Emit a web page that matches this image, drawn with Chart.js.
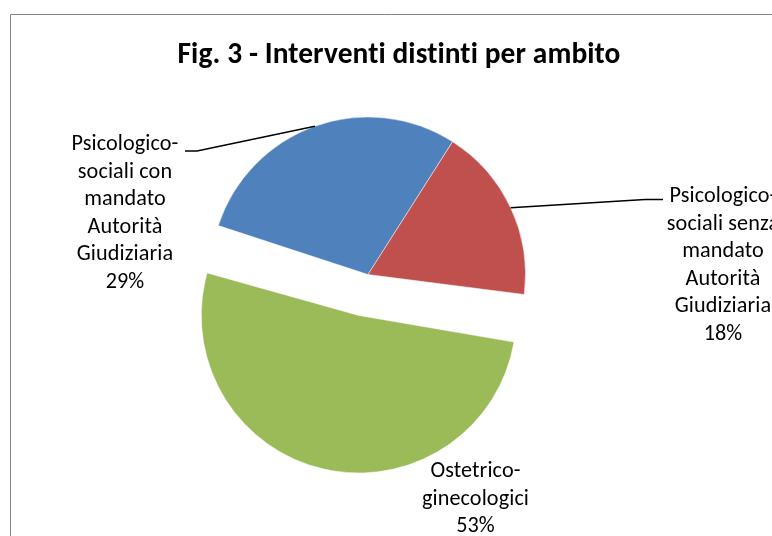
<!DOCTYPE html>
<html>
<head>
<meta charset="utf-8">
<script src="https://cdn.jsdelivr.net/npm/chart.js@4.4.1/dist/chart.umd.min.js"></script>
<style>
html,body{margin:0;padding:0;background:#fff;}
#wrap{position:relative;width:772px;height:536px;}
</style>
</head>
<body>
<div id="wrap"><canvas id="c" width="772" height="536"></canvas></div>
<script>
// ---- data ----
const categories = [
  "Psicologico-sociali con mandato Autorità Giudiziaria",
  "Psicologico-sociali senza mandato Autorità Giudiziaria",
  "Ostetrico-ginecologici"
];
const labelLines = [
  ["Psicologico-", "sociali con", "mandato", "Autorità", "Giudiziaria"],
  ["Psicologico-", "sociali senza", "mandato", "Autorità", "Giudiziaria"],
  ["Ostetrico-", "ginecologici"]
];
const values = [29, 18, 53];
const titleText = "Fig. 3 - Interventi distinti per ambito";
const colors = ["#4F81BD", "#C0504D", "#9BBB59"];

const LABEL_FONT = "Carlito, Lato, sans-serif";

const decor = {
  id: 'decor',
  beforeDraw(chart) {
    const ctx = chart.ctx;
    ctx.save();
    ctx.strokeStyle = '#868686';
    ctx.lineWidth = 1;
    ctx.beginPath();
    ctx.moveTo(10.5, 540); ctx.lineTo(10.5, 14.5); ctx.lineTo(780, 14.5);
    ctx.stroke();
    ctx.restore();
  },
  afterDraw(chart, args, opts) {
    const ctx = chart.ctx;
    const meta = chart.getDatasetMeta(0);
    const cx = (chart.chartArea.left + chart.chartArea.right) / 2;
    const cy = (chart.chartArea.top + chart.chartArea.bottom) / 2;
    ctx.save();
    // title
    ctx.fillStyle = '#000';
    ctx.textAlign = 'center';
    ctx.textBaseline = 'alphabetic';
    if ('letterSpacing' in ctx) ctx.letterSpacing = '0.1px'; // avoid "ti" ligatures
    ctx.font = 'bold ' + opts.titleSize + 'px ' + LABEL_FONT;
    ctx.fillText(titleText, opts.titleX, opts.titleY);
    // labels
    const total = values.reduce((a, b) => a + b, 0);
    ctx.font = opts.labelSize + 'px ' + LABEL_FONT;
    opts.labels.forEach((L, i) => {
      const lines = labelLines[i].concat([Math.round(values[i] / total * 100) + '%']);
      const lx = cx + L.dx, ly = cy + L.dy;
      lines.forEach((t, k) => ctx.fillText(t, lx, ly + k * opts.lineHeight));
      if (L.leader) {
        const arc = meta.data[i];
        const mid = (arc.startAngle + arc.endAngle) / 2;
        const ex = arc.x + Math.cos(mid) * arc.outerRadius;
        const ey = arc.y + Math.sin(mid) * arc.outerRadius;
        ctx.strokeStyle = '#000';
        ctx.lineWidth = 1.4;
        ctx.beginPath();
        ctx.moveTo(lx + L.leader[0], ly + L.leader[2]);
        ctx.lineTo(lx + L.leader[1], ly + L.leader[2]);
        ctx.lineTo(ex, ey);
        ctx.stroke();
      }
    });
    ctx.restore();
  }
};

// keep exploded slice at the same radius as the others
const explodeFix = {
  id: 'explodeFix',
  afterUpdate(chart) {
    chart.getDatasetMeta(0).data.forEach(arc => {
      const off = (arc.options.offset || 0) / 4;
      if (!off) return;
      const fix = 1 - Math.sin(Math.min(Math.PI, arc.circumference));
      arc.outerRadius -= off * fix;
    });
  }
};

new Chart(document.getElementById('c'), {
  type: 'pie',
  data: {
    labels: categories,
    datasets: [{
      data: values,
      backgroundColor: colors,
      borderColor: 'rgba(255,255,255,0.6)',
      borderWidth: 0.8,
      offset: [0, 0, 168],
      hoverOffset: 0
    }]
  },
  options: {
    responsive: false,
    animation: false,
    events: [],
    rotation: -71.9,
    radius: 157.5,
    layout: { padding: { left: 0, right: 36, top: 13, bottom: 0 } },
    plugins: {
      legend: { display: false },
      title: { display: false },
      tooltip: { enabled: false },
      decor: {
        titleSize: 29.4, titleX: 399, titleY: 63,
        labelSize: 22.2, lineHeight: 27.5,
        labels: [
          { dx: -243, dy: -124.5, leader: [60, 72, 1] },
          { dx: 355, dy: -72.5, leader: [-60, -78, -2.5] },
          { dx: 107.5, dy: 202.5 }
        ]
      }
    }
  },
  plugins: [decor, explodeFix]
});
</script>
</body>
</html>
